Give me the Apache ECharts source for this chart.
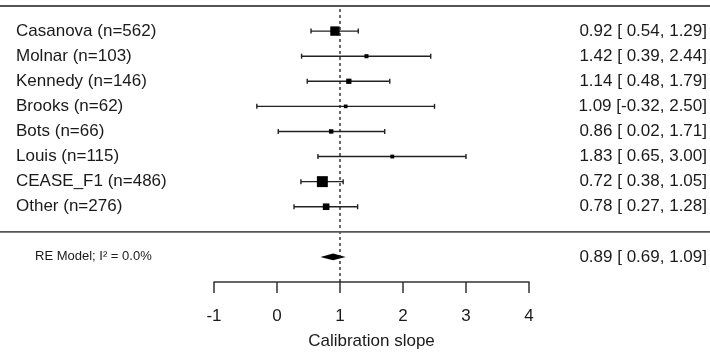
<!DOCTYPE html>
<html>
<head>
<meta charset="utf-8">
<script src="https://cdn.jsdelivr.net/npm/echarts@6/dist/echarts.min.js"></script>
<style>
  html, body { margin: 0; padding: 0; background: #fff; }
  #chart { width: 710px; height: 357px; }
</style>
</head>
<body>
<div id="chart"></div>
<script>
var studies = ['Casanova (n=562)', 'Molnar (n=103)', 'Kennedy (n=146)', 'Brooks (n=62)',
  'Bots (n=66)', 'Louis (n=115)', 'CEASE_F1 (n=486)', 'Other (n=276)'];
var est = [0.92, 1.42, 1.14, 1.09, 0.86, 1.83, 0.72, 0.78];
var lower = [0.54, 0.39, 0.48, -0.32, 0.02, 0.65, 0.38, 0.27];
var upper = [1.29, 2.44, 1.79, 2.50, 1.71, 3.00, 1.05, 1.28];
var pooled = [0.89, 0.69, 1.09]; // estimate, lower, upper
var modelLabel = 'RE Model; I\u00b2 = 0.0%';
var xTicks = [-1, 0, 1, 2, 3, 4];
var axisTitle = 'Calibration slope';

var FONT = "'Liberation Sans', Arial, sans-serif";
var INK = '#1a1a1a';

// rows like metafor: studies k..1, separator at 0, model at -1
var k = studies.length;
function rowOf(i) { return k - i; }

// square size from inverse-variance weights (metafor style, psize 0.5..1.5)
var wts = est.map(function(_, i) {
  var se = (upper[i] - lower[i]) / 3.92;
  return 1 / (se * se);
});
var wMin = Math.min.apply(null, wts), wMax = Math.max.apply(null, wts);
var psize = wts.map(function(w) { return 0.5 + (w - wMin) / (wMax - wMin); });

function fmt(v) {
  var s = v.toFixed(2);
  return v < 0 ? s : ' ' + s;
}
function ciText(e, lo, hi) {
  return e.toFixed(2) + ' [' + fmt(lo) + ', ' + hi.toFixed(2) + ']';
}

var barData = est.map(function(e, i) { return [e, lower[i], upper[i], rowOf(i), psize[i]]; });

var textData = [];
studies.forEach(function(s, i) {
  textData.push([16, rowOf(i), s, 'left', 17]);
  textData.push([707, rowOf(i), ciText(est[i], lower[i], upper[i]), 'right', 17]);
});
textData.push([35, -1, modelLabel, 'left', 13]);
textData.push([707, -1, ciText(pooled[0], pooled[1], pooled[2]), 'right', 17]);

var chart = echarts.init(document.getElementById('chart'));
chart.setOption({
  animation: false,
  grid: [
    { left: 214, right: 181, top: 6, bottom: 75 },
    { left: 0, right: 0, top: 6, bottom: 75 }
  ],
  xAxis: [
    {
      gridIndex: 0, type: 'value', min: xTicks[0], max: xTicks[xTicks.length - 1], interval: 1,
      splitLine: { show: false },
      axisLine: { onZero: false, lineStyle: { color: '#333', width: 1.5 } },
      axisTick: { length: 11, lineStyle: { color: '#333', width: 1.5 } },
      axisLabel: { margin: 26, color: INK, fontSize: 17, fontFamily: FONT },
      name: axisTitle, nameLocation: 'middle', nameGap: 51,
      nameTextStyle: { color: INK, fontSize: 17, fontFamily: FONT }
    },
    { gridIndex: 1, type: 'value', min: 0, max: 710, show: false }
  ],
  yAxis: [
    { gridIndex: 0, type: 'value', min: -2, max: k + 1, show: false },
    { gridIndex: 1, type: 'value', min: -2, max: k + 1, show: false }
  ],
  series: [
    {
      // reference line at slope 1
      type: 'line', xAxisIndex: 0, yAxisIndex: 0, symbol: 'none',
      data: [[1, -2], [1, k + 1]],
      lineStyle: { color: INK, width: 1.3, type: [3, 3] }
    },
    {
      type: 'line', xAxisIndex: 1, yAxisIndex: 1, symbol: 'none',
      data: [[0, k + 1], [710, k + 1]],
      lineStyle: { color: '#555', width: 1.8 }
    },
    {
      type: 'line', xAxisIndex: 1, yAxisIndex: 1, symbol: 'none',
      data: [[0, 0], [710, 0]],
      lineStyle: { color: '#555', width: 1.8 }
    },
    {
      type: 'custom', xAxisIndex: 0, yAxisIndex: 0,
      data: barData,
      renderItem: function(params, api) {
        var y = api.value(3);
        var lo = api.coord([api.value(1), y]);
        var hi = api.coord([api.value(2), y]);
        var c = api.coord([api.value(0), y]);
        var s = api.value(4) * 7.3;
        var ls = { stroke: '#222', lineWidth: 1.4 };
        return {
          type: 'group',
          children: [
            { type: 'line', shape: { x1: lo[0], y1: lo[1], x2: hi[0], y2: hi[1] }, style: ls },
            { type: 'line', shape: { x1: lo[0], y1: lo[1] - 2.5, x2: lo[0], y2: lo[1] + 2.5 }, style: ls },
            { type: 'line', shape: { x1: hi[0], y1: hi[1] - 2.5, x2: hi[0], y2: hi[1] + 2.5 }, style: ls },
            { type: 'rect', shape: { x: c[0] - s / 2, y: c[1] - s / 2, width: s, height: s }, style: { fill: '#000' } }
          ]
        };
      }
    },
    {
      type: 'custom', xAxisIndex: 0, yAxisIndex: 0,
      data: [[pooled[0], pooled[1], pooled[2], -1]],
      renderItem: function(params, api) {
        var y = api.value(3);
        var c = api.coord([api.value(0), y]);
        var lo = api.coord([api.value(1), y]);
        var hi = api.coord([api.value(2), y]);
        return {
          type: 'polygon',
          shape: { points: [[lo[0], lo[1]], [c[0], c[1] - 3.4], [hi[0], hi[1]], [c[0], c[1] + 3.4]] },
          style: { fill: '#000' }
        };
      }
    },
    {
      type: 'custom', xAxisIndex: 1, yAxisIndex: 1,
      data: textData,
      renderItem: function(params, api) {
        var p = api.coord([api.value(0), api.value(1)]);
        var d = textData[params.dataIndex];
        return {
          type: 'text', x: p[0], y: p[1],
          style: {
            text: d[2], fill: INK, align: d[3], verticalAlign: 'middle',
            font: d[4] + 'px ' + FONT
          }
        };
      }
    }
  ]
});
</script>
</body>
</html>
